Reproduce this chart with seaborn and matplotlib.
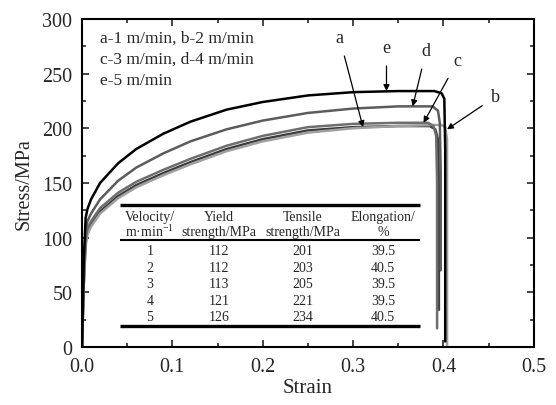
import matplotlib

matplotlib.use("Agg")

import matplotlib.pyplot as plt
import pandas as pd
import seaborn as sns
from matplotlib.ticker import FormatStrFormatter, MultipleLocator

# stress-strain curves (a..e = 1..5 m/min)
strain_a = [0, 0.002, 0.004, 0.006, 0.01, 0.02, 0.04, 0.06, 0.09, 0.12, 0.16, 0.2, 0.25, 0.3, 0.35, 0.385, 0.391, 0.394, 0.395, 0.395]
stress_a = [0, 60, 95, 105, 112, 124, 138, 148, 159, 169, 181, 190, 198, 201, 202, 202, 199, 190, 150, 34]
strain_b = [0, 0.002, 0.004, 0.006, 0.01, 0.02, 0.04, 0.06, 0.09, 0.12, 0.16, 0.2, 0.25, 0.3, 0.35, 0.39, 0.398, 0.402, 0.404, 0.404]
stress_b = [0, 55, 92, 103, 110, 122, 136, 146, 157, 167, 179, 188, 196, 200, 202, 203, 203, 201, 190, 0]
strain_c = [0, 0.002, 0.004, 0.006, 0.01, 0.02, 0.04, 0.06, 0.09, 0.12, 0.16, 0.2, 0.25, 0.3, 0.35, 0.383, 0.389, 0.392, 0.393, 0.393]
stress_c = [0, 60, 98, 108, 115, 127, 141, 151, 162, 172, 184, 193, 201, 204, 205, 205, 202, 193, 150, 17]
strain_d = [0, 0.002, 0.004, 0.006, 0.01, 0.02, 0.04, 0.06, 0.09, 0.12, 0.16, 0.2, 0.25, 0.3, 0.35, 0.388, 0.394, 0.396, 0.397, 0.397]
stress_d = [0, 70, 105, 115, 122, 135, 152, 164, 177, 188, 199, 207, 214, 218, 220, 220, 216, 205, 160, 70]
strain_e = [0, 0.002, 0.004, 0.006, 0.01, 0.02, 0.04, 0.06, 0.09, 0.12, 0.16, 0.2, 0.25, 0.3, 0.35, 0.39, 0.398, 0.401, 0.402, 0.402]
stress_e = [0, 80, 118, 126, 135, 150, 168, 181, 195, 206, 217, 224, 230, 233, 234, 234, 232, 227, 180, 5]

curve_names = ["a", "b", "c", "d", "e"]
curve_colors = ["#3c3c3c", "#a0a0a0", "#6e6e6e", "#5c5c5c", "#000000"]

# table values
velocity = ["1", "2", "3", "4", "5"]
yield_strength = ["112", "112", "113", "121", "126"]
tensile_strength = ["201", "203", "205", "221", "234"]
elongation = ["39.5", "40.5", "39.5", "39.5", "40.5"]

legend_lines = ["a-1 m/min, b-2 m/min", "c-3 m/min, d-4 m/min", "e-5 m/min"]

sns.set_style("ticks")
plt.rcParams["font.family"] = ["Liberation Serif", "DejaVu Serif"]
plt.rcParams["mathtext.default"] = "regular"

frames = []
for name, xs, ys in zip(
    curve_names,
    [strain_a, strain_b, strain_c, strain_d, strain_e],
    [stress_a, stress_b, stress_c, stress_d, stress_e],
):
    frames.append(pd.DataFrame({"strain": xs, "stress": ys, "curve": name}))
df = pd.concat(frames, ignore_index=True)

fig = plt.figure(figsize=(5.56, 4.06), dpi=100)
ax = fig.add_axes([0.1475, 0.143, 0.8125, 0.808])

sns.lineplot(
    data=df,
    x="strain",
    y="stress",
    hue="curve",
    palette=dict(zip(curve_names, curve_colors)),
    sort=False,
    estimator=None,
    linewidth=1.8,
    legend=False,
    ax=ax,
)

ax.set_xlim(0, 0.5)
ax.set_ylim(0, 300)
ax.xaxis.set_major_locator(MultipleLocator(0.1))
ax.xaxis.set_minor_locator(MultipleLocator(0.05))
ax.yaxis.set_major_locator(MultipleLocator(50))
ax.yaxis.set_minor_locator(MultipleLocator(25))
ax.xaxis.set_major_formatter(FormatStrFormatter("%.1f"))
ax.tick_params(which="both", direction="in", top=True, right=True, width=1.2, labelsize=14.5)
ax.tick_params(which="major", length=5)
ax.tick_params(which="minor", length=3)
ax.tick_params(axis="x", pad=7)
ax.tick_params(axis="y", pad=7)
for s in ax.spines.values():
    s.set_linewidth(1.5)
    s.set_color("black")

ax.set_xlabel("Strain", fontsize=15, labelpad=2)
ax.set_ylabel("Stress/MPa", fontsize=14.5, labelpad=6)

for i, line in enumerate(legend_lines):
    ax.text(0.02, 283 - i * 19.5, line, fontsize=12.5, va="center", ha="left")

# curve labels with arrows
arrow_style = dict(arrowstyle="-|>", color="black", lw=0.9, mutation_scale=9, shrinkA=5, shrinkB=0)
labels = [
    ("a", 0.285, 283, 0.311, 201),
    ("e", 0.337, 274, 0.337, 234),
    ("d", 0.381, 271, 0.366, 220),
    ("c", 0.416, 262, 0.378, 205),
    ("b", 0.458, 229, 0.404, 199),
]
for txt, tx, ty, px, py in labels:
    ax.annotate(txt, xy=(px, py), xytext=(tx, ty), fontsize=13, ha="center", va="center",
                arrowprops=arrow_style)

# inset table
tx0, tx1 = 0.084, 0.748
col_x = [0.150, 0.303, 0.489, 0.666]
ax.plot([tx0, tx1], [0.434, 0.434], transform=ax.transAxes, color="black", lw=2.4, solid_capstyle="butt")
ax.plot([tx0, tx1], [0.327, 0.327], transform=ax.transAxes, color="black", lw=1.5, solid_capstyle="butt")
ax.plot([tx0, tx1], [0.064, 0.064], transform=ax.transAxes, color="black", lw=2.4, solid_capstyle="butt")

head1 = ["Velocity/", "Yield", "Tensile", "Elongation/"]
head2 = ["m\u00b7min$^{-1}$", "strength/MPa", "strength/MPa", "%"]
for cx, h1, h2 in zip(col_x, head1, head2):
    ax.text(cx, 0.398, h1, transform=ax.transAxes, ha="center", va="center", fontsize=10)
    ax.text(cx, 0.352, h2, transform=ax.transAxes, ha="center", va="center", fontsize=10)

row_y = [0.293, 0.243, 0.192, 0.141, 0.092]
for ry, v, ys, ts, el in zip(row_y, velocity, yield_strength, tensile_strength, elongation):
    for cx, val in zip(col_x, [v, ys, ts, el]):
        ax.text(cx, ry, val, transform=ax.transAxes, ha="center", va="center", fontsize=10)

fig.savefig("out.png", dpi=100)
plt.close(fig)
